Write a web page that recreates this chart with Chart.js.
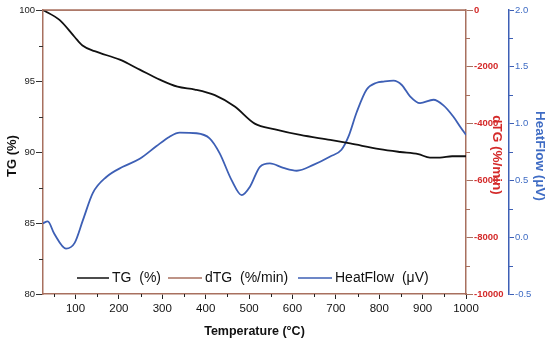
<!DOCTYPE html>
<html>
<head>
<meta charset="utf-8">
<script src="https://cdn.jsdelivr.net/npm/chart.js@4.4.0/dist/chart.umd.min.js"></script>
<style>
html,body{margin:0;padding:0;background:#fff;}
#wrap{width:550px;height:346px;position:relative;}
</style>
</head>
<body>
<div id="wrap"><canvas id="c" width="550" height="346"></canvas></div>
<script>
// ---- data ----
const tgTemps = [25, 63, 98, 116, 144, 202, 248, 294, 335, 375, 421, 467, 513, 560, 618, 687, 733, 801, 848, 890, 917, 940, 968, 1000];
const tgValues = [100, 99.3, 98.1, 97.5, 97.1, 96.5, 95.8, 95.1, 94.6, 94.4, 94.0, 93.2, 92.0, 91.6, 91.2, 90.85, 90.6, 90.2, 90.0, 89.85, 89.6, 89.6, 89.7, 89.7];

const dtgTemps = [25, 200, 400, 600, 800, 1000];
const dtgValues = [0, 0, 0, 0, 0, 0];

const hfTemps = [24, 36, 51, 78, 98, 117, 140, 171, 209, 248, 286, 317, 340, 379, 409, 432, 460, 483, 502, 525, 548, 579, 610, 648, 687, 713, 729, 748, 771, 794, 810, 833, 852, 871, 894, 925, 948, 971, 987, 1000];
const hfValues = [0.12, 0.14, 0.03, -0.10, -0.05, 0.15, 0.39, 0.53, 0.62, 0.69, 0.80, 0.885, 0.92, 0.915, 0.87, 0.74, 0.50, 0.37, 0.445, 0.62, 0.65, 0.61, 0.585, 0.636, 0.71, 0.77, 0.885, 1.10, 1.30, 1.36, 1.37, 1.378, 1.34, 1.24, 1.18, 1.21, 1.16, 1.06, 0.97, 0.90];

const xTicks = [100, 200, 300, 400, 500, 600, 700, 800, 900, 1000];
const xMinorTicks = [50, 150, 250, 350, 450, 550, 650, 750, 850, 950];
const tgTicks = [80, 85, 90, 95, 100];
const tgMinorTicks = [82.5, 87.5, 92.5, 97.5];
const dtgTicks = [-10000, -8000, -6000, -4000, -2000, 0];
const dtgMinorTicks = [-9000, -7000, -5000, -3000, -1000];
const hfTicks = [-0.5, 0.0, 0.5, 1.0, 1.5, 2.0];
const hfMinorTicks = [-0.25, 0.25, 0.75, 1.25, 1.75];

const legendLabels = ['TG  (%)', 'dTG  (%/min)', 'HeatFlow  (\u03bcV)'];

// ---- styles ----
const BROWN = '#a8705f';
const RED = '#d42a2a';
const BLUE = '#3d5fb5';
const BLUE_TXT = '#3f6cc4';
const FONT = '"Liberation Sans", Arial, sans-serif';

const pts = (xs, ys) => xs.map((x, i) => ({x: x, y: ys[i]}));

const minorTicksPlugin = {
  id: 'minorTicks',
  afterDraw(chart) {
    const ctx = chart.ctx;
    const s = chart.scales;
    ctx.save();
    ctx.lineWidth = 1;
    ctx.strokeStyle = '#222';
    xMinorTicks.forEach(v => {
      const px = Math.round(s.x.getPixelForValue(v)) + 0.5;
      ctx.beginPath(); ctx.moveTo(px, s.x.top); ctx.lineTo(px, s.x.top + 3); ctx.stroke();
    });
    ctx.strokeStyle = '#333';
    tgMinorTicks.forEach(v => {
      const py = Math.round(s.y.getPixelForValue(v)) + 0.5;
      ctx.beginPath(); ctx.moveTo(s.y.right, py); ctx.lineTo(s.y.right - 4, py); ctx.stroke();
    });
    ctx.strokeStyle = BROWN;
    dtgMinorTicks.forEach(v => {
      const py = Math.round(s.y2.getPixelForValue(v)) + 0.5;
      ctx.beginPath(); ctx.moveTo(s.y2.left, py); ctx.lineTo(s.y2.left + 4, py); ctx.stroke();
    });
    ctx.strokeStyle = BLUE;
    hfMinorTicks.forEach(v => {
      const py = Math.round(s.y3.getPixelForValue(v)) + 0.5;
      ctx.beginPath(); ctx.moveTo(s.y3.left, py); ctx.lineTo(s.y3.left + 4, py); ctx.stroke();
    });
    const ca = chart.chartArea;
    ctx.strokeStyle = BROWN;
    ctx.lineWidth = 1.5;
    ctx.beginPath(); ctx.moveTo(ca.left, ca.top); ctx.lineTo(ca.right, ca.top); ctx.stroke();

    // titles
    ctx.fillStyle = '#111';
    ctx.font = 'bold 12.5px ' + FONT;
    ctx.textAlign = 'center';
    ctx.textBaseline = 'middle';
    ctx.fillText('Temperature (\u00b0C)', (ca.left + ca.right) / 2, 332);
    ctx.save();
    ctx.translate(12, (ca.top + ca.bottom) / 2 + 4);
    ctx.rotate(-Math.PI / 2);
    ctx.font = 'bold 13px ' + FONT;
    ctx.fillText('TG (%)', 0, 0);
    ctx.restore();
    ctx.save();
    ctx.translate(497, 155);
    ctx.rotate(Math.PI / 2);
    ctx.fillStyle = RED;
    ctx.font = 'bold 13.5px ' + FONT;
    ctx.fillText('dTG (%/min)', 0, 0);
    ctx.restore();
    ctx.save();
    ctx.translate(540, 156);
    ctx.rotate(Math.PI / 2);
    ctx.fillStyle = BLUE_TXT;
    ctx.font = 'bold 13.5px ' + FONT;
    ctx.fillText('HeatFlow (\u03bcV)', 0, 0);
    ctx.restore();

    // legend
    const items = [
      {label: legendLabels[0], color: '#111', x0: 77, x1: 109, tx: 112},
      {label: legendLabels[1], color: BROWN, x0: 168, x1: 202, tx: 205},
      {label: legendLabels[2], color: BLUE, x0: 298, x1: 332, tx: 335}
    ];
    const ly = 278;
    ctx.font = '14px ' + FONT;
    ctx.textAlign = 'left';
    items.forEach(it => {
      ctx.strokeStyle = it.color;
      ctx.lineWidth = 1.5;
      ctx.beginPath(); ctx.moveTo(it.x0, ly); ctx.lineTo(it.x1, ly); ctx.stroke();
      ctx.fillStyle = '#111';
      ctx.fillText(it.label, it.tx, ly);
    });
    ctx.restore();
  }
};

const setTicks = arr => scale => { scale.ticks = arr.map(v => ({value: v})); };

new Chart(document.getElementById('c'), {
  type: 'line',
  data: {
    datasets: [
      {label: 'TG (%)', data: pts(tgTemps, tgValues), xAxisID: 'x', yAxisID: 'y', borderColor: '#111', borderWidth: 1.8, pointRadius: 0, cubicInterpolationMode: 'monotone', fill: false},
      {label: 'dTG (%/min)', data: pts(dtgTemps, dtgValues), xAxisID: 'x', yAxisID: 'y2', borderColor: BROWN, borderWidth: 1.5, pointRadius: 0, fill: false},
      {label: 'HeatFlow (\u03bcV)', data: pts(hfTemps, hfValues), xAxisID: 'x', yAxisID: 'y3', borderColor: BLUE, borderWidth: 1.8, pointRadius: 0, cubicInterpolationMode: 'monotone', fill: false}
    ]
  },
  options: {
    responsive: false,
    animation: false,
    layout: {padding: {top: 10, left: 0, right: 0, bottom: 0}},
    plugins: {legend: {display: false}, tooltip: {enabled: false}},
    scales: {
      x: {
        type: 'linear', position: 'bottom', min: 25, max: 1000,
        afterBuildTicks: setTicks(xTicks),
        afterFit: s => { s.height = 52; },
        ticks: {font: {family: FONT, size: 11.5}, color: '#111', padding: 3, maxRotation: 0, autoSkip: false, callback: v => String(v)},
        grid: {display: true, drawOnChartArea: false, drawTicks: true, tickLength: 5, color: '#222'},
        border: {display: true, color: BROWN, width: 1.5}
      },
      y: {
        type: 'linear', position: 'left', min: 80, max: 100,
        afterBuildTicks: setTicks(tgTicks),
        afterFit: s => { s.width = 43; },
        ticks: {font: {family: FONT, size: 9.5}, color: '#222', padding: 1, autoSkip: false},
        grid: {display: true, drawOnChartArea: false, drawTicks: true, tickLength: 7, color: '#333'},
        border: {display: true, color: BROWN, width: 1.5}
      },
      y2: {
        type: 'linear', position: 'right', min: -10000, max: 0,
        afterBuildTicks: setTicks(dtgTicks),
        afterFit: s => { s.width = 43; },
        ticks: {font: {family: FONT, size: 9.5, weight: 'bold'}, color: RED, padding: 1, autoSkip: false, callback: v => String(v)},
        grid: {display: true, drawOnChartArea: false, drawTicks: true, tickLength: 7, color: BROWN},
        border: {display: true, color: BROWN, width: 1.5}
      },
      y3: {
        type: 'linear', position: 'right', min: -0.5, max: 2.0,
        afterBuildTicks: setTicks(hfTicks),
        afterFit: s => { s.width = 41; },
        ticks: {font: {family: FONT, size: 9.5}, color: BLUE_TXT, padding: 1, autoSkip: false, callback: v => Number(v).toFixed(1)},
        grid: {display: true, drawOnChartArea: false, drawTicks: true, tickLength: 5, color: BLUE},
        border: {display: true, color: BLUE, width: 1.5}
      }
    }
  },
  plugins: [minorTicksPlugin]
});
</script>
</body>
</html>
